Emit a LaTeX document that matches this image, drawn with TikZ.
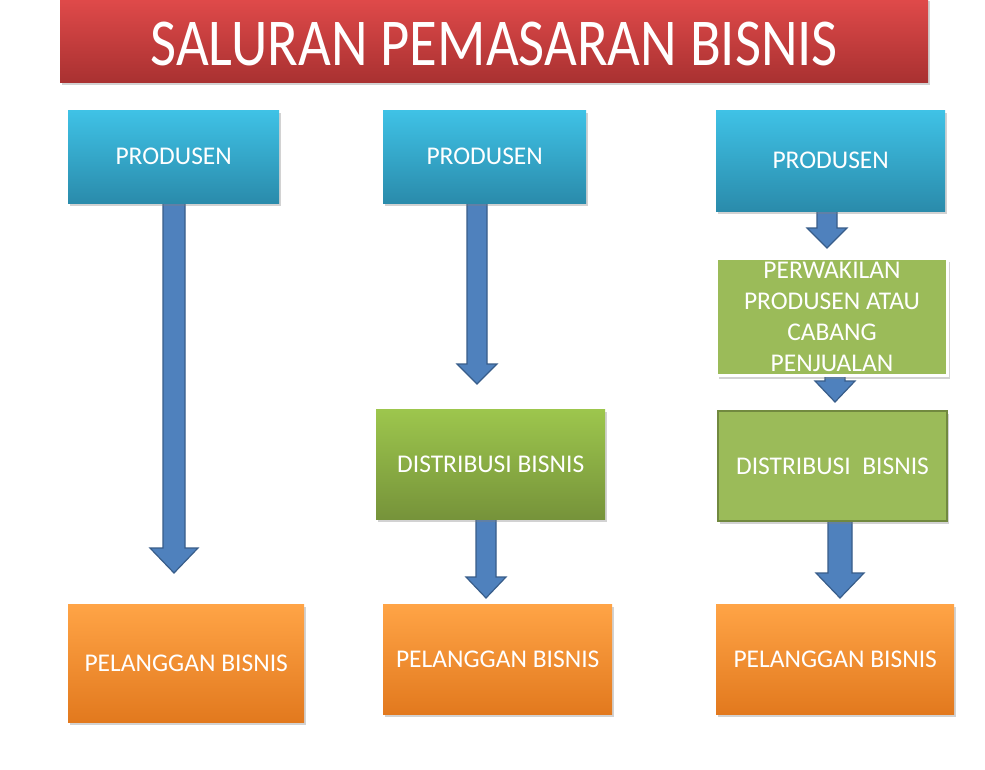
\documentclass[tikz,border=0pt]{standalone}
\usepackage{graphicx}
\usepackage{fontspec}
\setmainfont{Carlito}
\usetikzlibrary{shadows}
\definecolor{redtop}{HTML}{E04A4A}
\definecolor{redbot}{HTML}{A93131}
\definecolor{bluetop}{HTML}{3FC2E6}
\definecolor{bluebot}{HTML}{2A8BAB}
\definecolor{greentop}{HTML}{9DC64D}
\definecolor{greenbot}{HTML}{76933A}
\definecolor{greenflat}{HTML}{9BBB59}
\definecolor{greenline}{HTML}{71893F}
\definecolor{orangetop}{HTML}{FFA446}
\definecolor{orangebot}{HTML}{E2791E}
\definecolor{arrowfill}{HTML}{4F81BD}
\definecolor{arrowline}{HTML}{385D8A}
\newcommand\blockarrow[6]{% xc, ytop, ybase, ytip, shaft half, head half
  \draw[arrowst] (#1-#5,#2) -- (#1+#5,#2) -- (#1+#5,#3) -- (#1+#6,#3) -- (#1,#4)
     -- (#1-#6,#3) -- (#1-#5,#3) -- cycle;}
\begin{document}
\begin{tikzpicture}[x=1pt,y=-1pt,
  shad/.style={drop shadow={opacity=0.35,shadow xshift=2pt,shadow yshift=-3pt}},
  box/.style={anchor=north west,inner sep=0pt,align=center,text=white,
    font=\fontsize{25.5}{31}\selectfont,shad},
  bluebox/.style={box,top color=bluetop,bottom color=bluebot},
  gradgreen/.style={box,top color=greentop,bottom color=greenbot},
  flatgreen/.style={box,fill=greenflat,draw=greenline,line width=2pt},
  whitegreen/.style={box,fill=greenflat,draw=white,line width=3pt},
  orangebox/.style={box,top color=orangetop,bottom color=orangebot},
  arrowst/.style={fill=arrowfill,draw=arrowline,line width=1.2pt,line join=miter}]
\useasboundingbox (0,0) rectangle (985,769);
\fill[white] (0,0) rectangle (985,769);

% arrows (behind boxes)
\blockarrow{174}{203}{548}{573}{11}{24}
\blockarrow{477}{203}{364}{384}{10}{20}
\blockarrow{827}{211}{228}{248}{10}{20}
\blockarrow{835}{374}{381}{402}{10}{20}
\blockarrow{840}{520}{573}{598}{12}{24}
\blockarrow{486}{519}{577}{598}{10}{20}

% title
\node[box,top color=redtop,bottom color=redbot,minimum width=868pt,minimum height=84pt,
  font=\fontsize{67}{70}\selectfont] (title) at (60,-2)
  {\raisebox{-25pt}[0pt][0pt]{\scalebox{0.845}[1]{SALURAN PEMASARAN BISNIS}}};

% column 1
\node[bluebox,minimum width=211pt,minimum height=93pt] (p1) at (68,110) {PRODUSEN};
\node[orangebox,minimum width=236pt,minimum height=118pt] (c1) at (68,604) {PELANGGAN BISNIS};

% column 2
\node[bluebox,minimum width=203pt,minimum height=93pt] (p2) at (383,110) {PRODUSEN};
\node[gradgreen,minimum width=229pt,minimum height=110pt] (d2) at (376,409) {DISTRIBUSI BISNIS};
\node[orangebox,minimum width=229pt,minimum height=110pt] (c2) at (383,604) {PELANGGAN BISNIS};

% column 3
\node[bluebox,minimum width=229pt,minimum height=101pt] (p3) at (716,110) {PRODUSEN};
\node[whitegreen,minimum width=231pt,minimum height=117pt] (r3) at (715,257)
  {PERWAKILAN\\PRODUSEN ATAU\\CABANG\\PENJUALAN};
\node[flatgreen,minimum width=229pt,minimum height=110pt] (d3) at (717,410) {DISTRIBUSI\ \ BISNIS};
\node[orangebox,minimum width=238pt,minimum height=110pt] (c3) at (716,604) {PELANGGAN BISNIS};
\end{tikzpicture}
\end{document}
